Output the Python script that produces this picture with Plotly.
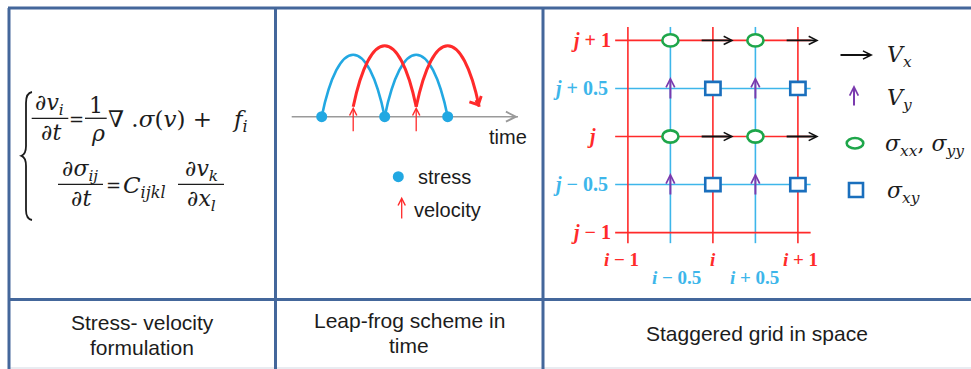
import plotly.graph_objects as go

W, H = 971, 369

# ---------------- data ----------------
caption_lines = [["Stress- velocity", "formulation"],
                 ["Leap-frog scheme in", "time"],
                 ["Staggered grid in space"]]

# Panel 2 - leap-frog scheme (time in units of the step)
stress_times = [0, 1, 2]
velocity_times = [0.5, 1.5]
stress_hops = [[0, 1], [1, 2]]
velocity_hops = [[0.5, 1.5], [1.5, 2.5]]
time_axis_span = [-0.476, 3.116]

# Panel 3 - staggered grid (offsets from node i, j)
red_grid = [-1, 0, 1]
blue_grid = [-0.5, 0.5]
sigma_normal_i = [-0.5, 0.5, -0.5, 0.5]
sigma_normal_j = [1, 1, 0, 0]
sigma_shear_i = [0, 1, 0, 1]
sigma_shear_j = [0.5, 0.5, -0.5, -0.5]
vx_i = [0, 1, 0, 1]
vx_j = [1, 1, 0, 0]
vy_i = [-0.5, 0.5, -0.5, 0.5]
vy_j = [0.5, 0.5, -0.5, -0.5]

# ---------------- styles / geometry ----------------
BORDER = "#44679b"
RED = "#ff2a2a"
SKY = "#22a8e2"
GRID_BLUE = "#3db6ea"
GREEN = "#1ea64a"
SQ_BLUE = "#1a6fbd"
PURPLE = "#7a3aae"
TXT = "#1c1c1c"
MATH = "DejaVu Serif"
SANS = "Liberation Sans, Arial"
SERIF = "Liberation Serif"
NB = "\u00a0"

T0, DT = 321.7, 63.0        # panel 2: pixel = T0 + DT * t
X0, DX = 712.9, 85.0        # panel 3: pixel x = X0 + DX * u
Y0, DY = 136.5, 96.1        # panel 3: pixel y = Y0 - DY * v
AXIS_Y = 116.7
VEL_Y = 106.7

fig = go.Figure()
shapes = []
ann = []


def text(x, y, s, size=20, color=TXT, family=SANS, xanchor="center", xref="x", yref="y", xshift=0):
    ann.append(dict(x=x, y=y, xref=xref, yref=yref, text=s, showarrow=False,
                    font=dict(size=size, color=color, family=family),
                    xanchor=xanchor, yanchor="middle", xshift=xshift))


def arrow(x, y, ax, ay, color, width, size, head=5, xref="x", yref="y", pix=False, standoff=0):
    d = dict(x=x, y=y, xref=xref, yref=yref, text="", showarrow=True, ax=ax, ay=ay,
             arrowhead=head, arrowwidth=width, arrowsize=size, arrowcolor=color,
             standoff=standoff)
    if not pix:
        d.update(axref=xref, ayref=yref)
    ann.append(d)


def line(x0, y0, x1, y1, color=BORDER, width=3):
    shapes.append(dict(type="line", xref="x", yref="y", x0=x0, y0=y0, x1=x1, y1=y1,
                       line=dict(color=color, width=width), layer="above"))


# ---------------- table frame ----------------
line(8, 368, W, 368, color="#d3dae4", width=1.2)
line(8, 8, W, 8)
line(9, 8, 9, H)
line(275.5, 8, 275.5, H)
line(543, 8, 543, H)
line(9, 299.5, W, 299.5)

# captions
cap_x = [142, 409, 757]
cap_y = [[322, 347], [320, 345], [333]]
for cx, lines_, ys in zip(cap_x, caption_lines, cap_y):
    for s, yy in zip(lines_, ys):
        text(cx, yy, s, size=21)

# ---------------- panel 1: equations ----------------
shapes.append(dict(type="path", xref="x", yref="y",
                   path="M 32,92 Q 26,93 26,103 L 26,146 Q 26,154 21.5,155.8 Q 26,157.5 26,166 "
                        "L 26,210 Q 26,219 32,220",
                   line=dict(color=TXT, width=1.8)))
EQ = 22
text(49.5, 104, "∂<i>v</i><sub><i>i</i></sub>", size=EQ, family=MATH)
line(31.7, 118.3, 68.3, 118.3, color=TXT, width=1.3)
text(50.5, 132, "∂<i>t</i>", size=EQ, family=MATH)
text(76.5, 119, "=", size=18, family=MATH)
text(96, 105, "1", size=EQ, family=MATH)
line(85, 118.3, 106.7, 118.3, color=TXT, width=1.3)
text(97.5, 133, "<i>ρ</i>", size=EQ, family=MATH)
text(106, 121, f"<i>∇</i>{NB}.<i>σ</i>(<i>v</i>){NB}+{NB}{NB}{NB}<i>f</i><sub><i>i</i></sub>",
     size=23, family=MATH, xanchor="left")

text(80, 170, "∂<i>σ</i><sub><i>ij</i></sub>", size=EQ, family=MATH)
line(58, 184.3, 103, 184.3, color=TXT, width=1.3)
text(81, 198.5, "∂<i>t</i>", size=EQ, family=MATH)
text(113, 185, "=", size=18, family=MATH)
text(121, 187, "<i>C</i><sub><i>ijkl</i></sub>", size=23, family=MATH, xanchor="left")
text(201, 170, "∂<i>v</i><sub><i>k</i></sub>", size=EQ, family=MATH)
line(178, 184.3, 224, 184.3, color=TXT, width=1.3)
text(201.5, 200, "∂<i>x</i><sub><i>l</i></sub>", size=EQ, family=MATH)

# ---------------- panel 2: leap-frog ----------------
fig.add_trace(go.Scatter(x=time_axis_span, y=[AXIS_Y] * 2, xaxis="x2", yaxis="y", mode="lines",
                         line=dict(color="#9a9a9a", width=1.6), hoverinfo="skip"))
arrow(time_axis_span[1], AXIS_Y, -8, 0, "#9a9a9a", 1.5, 1.3, xref="x2", pix=True)


def hop_path(t0, t1, base, height, a=0.27):
    w = t1 - t0
    k = base - 1.333 * height
    return f"M {t0},{base} C {t0 + a * w},{k} {t1 - a * w},{k} {t1},{base}"


for hops, base, height, col, wid in [(stress_hops, AXIS_Y, 62, SKY, 2.6),
                                     (velocity_hops, VEL_Y, 61, RED, 3.0)]:
    for t0, t1 in hops:
        shapes.append(dict(type="path", xref="x2", yref="y", path=hop_path(t0, t1, base, height),
                           line=dict(color=col, width=wid), layer="above"))
    t1 = hops[-1][1]
    # open arrowhead at the end of the last hop
    arrow(t1, base, -4, -8, col, wid, 0.85, head=4, xref="x2", pix=True,
          standoff=5 if col == SKY else 0)

fig.add_trace(go.Scatter(x=stress_times, y=[AXIS_Y] * len(stress_times), xaxis="x2", yaxis="y",
                         mode="markers", marker=dict(size=11, color=SKY), hoverinfo="skip"))
for t in velocity_times:
    arrow(t, VEL_Y, 0, 26, RED, 1.3, 1.1, xref="x2", pix=True)

text(507.5, 137, "time", size=20)
fig.add_trace(go.Scatter(x=[398.3], y=[176.7], mode="markers", marker=dict(size=11, color=SKY),
                         hoverinfo="skip"))
text(416, 177, "stress", size=20, xanchor="left")
arrow(401.7, 196.7, 0, 23.3, RED, 1.3, 1.1, pix=True)
text(412, 210, "velocity", size=20, xanchor="left")

# ---------------- panel 3: staggered grid ----------------
EXT_U = [-1.15, 1.15]
EXT_V = [-1.11, 1.14]
for vals, col in [(blue_grid, GRID_BLUE), (red_grid, RED)]:
    for g in vals:
        fig.add_trace(go.Scatter(x=EXT_U, y=[g, g], xaxis="x3", yaxis="y2", mode="lines",
                                 line=dict(color=col, width=1.6), hoverinfo="skip"))
        fig.add_trace(go.Scatter(x=[g, g], y=EXT_V, xaxis="x3", yaxis="y2", mode="lines",
                                 line=dict(color=col, width=1.6), hoverinfo="skip"))

for u, v in zip(sigma_normal_i, sigma_normal_j):
    shapes.append(dict(type="circle", xref="x3", yref="y2", x0=u - 0.095, x1=u + 0.095,
                       y0=v - 0.064, y1=v + 0.064, fillcolor="white",
                       line=dict(color=GREEN, width=2.6), layer="above"))
for u, v in zip(sigma_shear_i, sigma_shear_j):
    shapes.append(dict(type="rect", xref="x3", yref="y2", x0=u - 0.09, x1=u + 0.09,
                       y0=v - 0.068, y1=v + 0.068, fillcolor="white",
                       line=dict(color=SQ_BLUE, width=2.6), layer="above"))
for u, v in zip(vx_i, vx_j):
    arrow(u + 0.245, v, u - 0.15, v, "#111111", 1.8, 0.9, xref="x3", yref="y2")
for u, v in zip(vy_i, vy_j):
    arrow(u, v + 0.12, u, v - 0.12, PURPLE, 2.0, 0.85, xref="x3", yref="y2")


def idx_label(sym, off):
    if off == 0:
        return f"<b><i>{sym}</i></b>"
    sign = "+" if off > 0 else "−"
    return f"<b><i>{sym}</i> {sign} {abs(off):g}</b>"


for g in red_grid:
    text(591, g, idx_label("j", g), size=20, color=RED, family=SERIF, xref="x", yref="y2")
    text(g, 259, idx_label("i", g), size=19, color=RED, family=SERIF, xref="x3", yref="y",
         xshift=-6 if g < 0 else (3 if g > 0 else 0))
for g in blue_grid:
    text(580, g, idx_label("j", g), size=20, color=GRID_BLUE, family=SERIF, xref="x", yref="y2")
    text(g, 277, idx_label("i", g), size=19, color=GRID_BLUE, family=SERIF, xref="x3", yref="y",
         xshift=6 if g < 0 else -1)

# legend of panel 3
arrow(873, 55, 839, 55, "#111111", 1.8, 0.9)
text(885, 56, "<i>V</i><sub><i>x</i></sub>", size=22, family=MATH, xanchor="left")
arrow(854, 85, 854, 107, PURPLE, 2.0, 0.85)
text(885, 99, "<i>V</i><sub><i>y</i></sub>", size=22, family=MATH, xanchor="left")
shapes.append(dict(type="circle", xref="x", yref="y", x0=846.7, x1=863.3, y0=138, y1=148.5,
                   fillcolor="white", line=dict(color=GREEN, width=2.6)))
text(883, 145, "<i>σ</i><sub><i>xx</i></sub>, <i>σ</i><sub><i>yy</i></sub>", size=22, family=MATH,
     xanchor="left")
shapes.append(dict(type="rect", xref="x", yref="y", x0=849, x1=863, y0=183, y1=197,
                   fillcolor="white", line=dict(color=SQ_BLUE, width=2.6)))
text(885, 192, "<i>σ</i><sub><i>xy</i></sub>", size=22, family=MATH, xanchor="left")

# ---------------- layout ----------------
hid = dict(visible=False, fixedrange=True, showgrid=False, zeroline=False)
fig.update_layout(
    width=W, height=H, autosize=False, margin=dict(l=0, r=0, t=0, b=0, pad=0),
    paper_bgcolor="white", plot_bgcolor="white", showlegend=False,
    xaxis=dict(range=[0, W], domain=[0, 1], anchor="y", **hid),
    yaxis=dict(range=[H, 0], domain=[0, 1], anchor="x", **hid),
    xaxis2=dict(range=[-T0 / DT, (W - T0) / DT], domain=[0, 1], overlaying="x", anchor="y", **hid),
    xaxis3=dict(range=[-X0 / DX, (W - X0) / DX], domain=[0, 1], overlaying="x", anchor="y2", **hid),
    yaxis2=dict(range=[(Y0 - H) / DY, Y0 / DY], domain=[0, 1], overlaying="y", anchor="x3", **hid),
    shapes=shapes, annotations=ann,
)

fig.write_html("out.html", config=dict(displayModeBar=False, staticPlot=True))
